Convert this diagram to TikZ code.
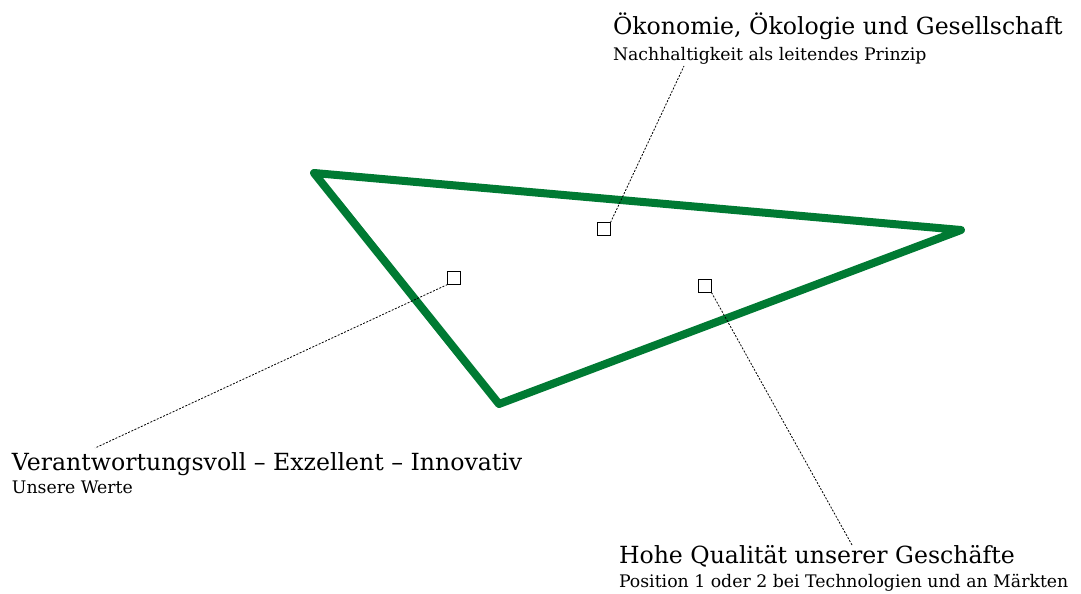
\documentclass[tikz,border=0pt]{standalone}
\usepackage{fontspec}
\setmainfont{DejaVu Serif}
\usetikzlibrary{positioning}
\definecolor{leafgreen}{HTML}{007A33}

\begin{document}
\begin{tikzpicture}[x=1pt,y=-1pt]
      \tikzset{
        every node/.style={inner sep=0pt, outer sep=0pt},
        marker/.style={draw, thin, fill=white, minimum size=13pt},
        leader/.style={line width=0.8pt, dash pattern=on 2pt off 1.5pt},
        headline/.style={anchor=base west, font=\fontsize{23.6}{28}\selectfont},
        subline/.style={anchor=base west, font=\fontsize{17.3}{20}\selectfont},
      }
      \useasboundingbox (0,0) rectangle (1081,594);

      \coordinate (v1) at (314,173);
      \coordinate (v2) at (961,230);
      \coordinate (v3) at (499,404);
      \draw[leafgreen, line width=8pt, line join=round, line cap=round]
        (v1) -- (v2) -- (v3) -- cycle;

      \node[marker] (s1) at (604,229) {};
      \node[marker] (s2) at (454,278) {};
      \node[marker] (s3) at (705,286) {};

      \node[headline] (h1) at (613,35) {Ökonomie, Ökologie und Gesellschaft};
      \node[subline] (u1) at (613,60) {Nachhaltigkeit als leitendes Prinzip};
      \node[headline] (h2) at (12,470) {Verantwortungsvoll – Exzellent – Innovativ};
      \node[subline] (u2) at (12,493) {Unsere Werte};
      \node[headline] (h3) at (619,563) {Hohe Qualität unserer Geschäfte};
      \node[subline] (u3) at (619,587) {Position 1 oder 2 bei Technologien und an Märkten};

      \coordinate (e1) at (684,66);
      \coordinate (e2) at (95,448);
      \coordinate (e3) at (852,545);

      \draw[leader] (s1.north east) -- (e1);
      \draw[leader] (s2.south west) -- (e2);
      \draw[leader] (s3.south east) -- (e3);
    \end{tikzpicture}
\end{document}
